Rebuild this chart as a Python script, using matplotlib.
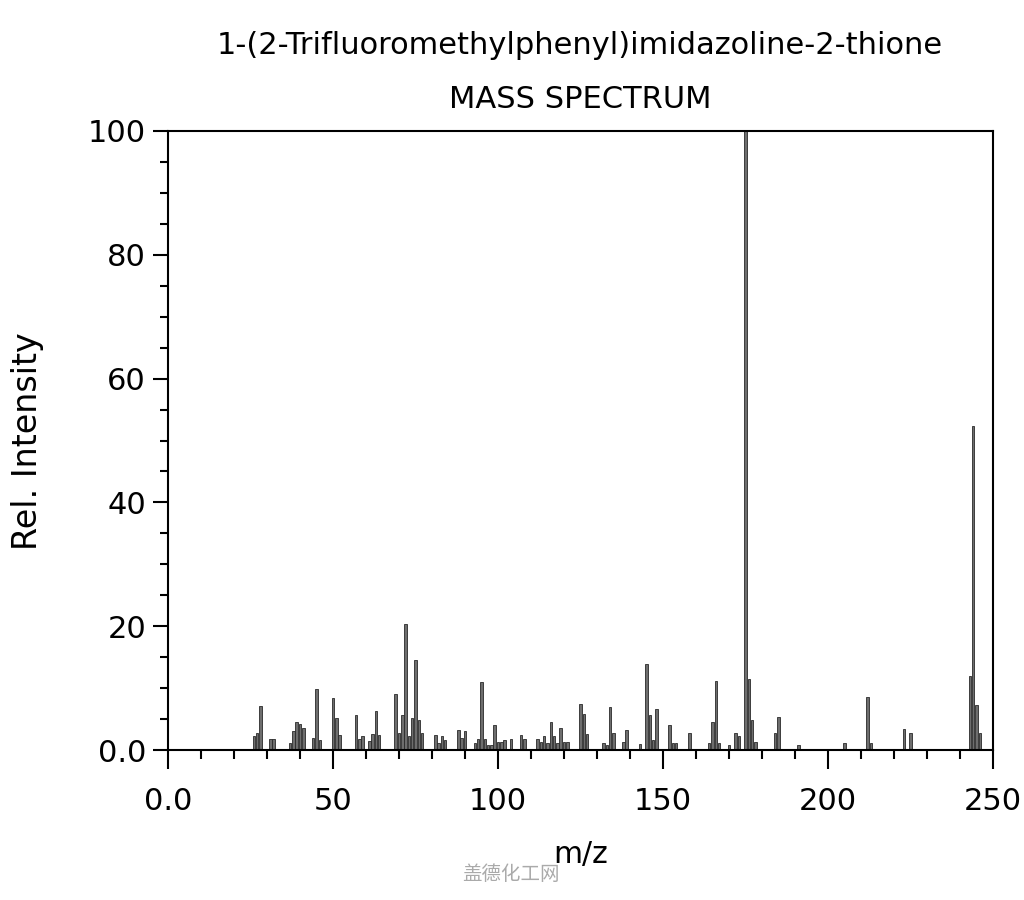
import matplotlib
matplotlib.use("Agg")
import matplotlib.pyplot as plt
from matplotlib.ticker import MultipleLocator, FixedLocator, FixedFormatter

title_line1 = "1-(2-Trifluoromethylphenyl)imidazoline-2-thione"
title_line2 = "MASS SPECTRUM"

mz = [26, 27, 28, 31, 32, 37, 38, 39, 40, 41, 44, 45, 46, 50, 51, 52,
      57, 58, 59, 61, 62, 63, 64, 69, 70, 71, 72, 73, 74, 75, 76, 77,
      81, 82, 83, 84, 88, 89, 90, 93, 94, 95, 96, 97, 98, 99, 100, 101,
      102, 104, 107, 108, 112, 113, 114, 115, 116, 117, 118, 119, 120, 121,
      125, 126, 127, 132, 133, 134, 135, 138, 139, 143, 145, 146, 147, 148,
      152, 153, 154, 158, 164, 165, 166, 167, 170, 172, 173, 175, 176, 177,
      178, 184, 185, 191, 205, 212, 213, 223, 225, 243, 244, 245, 246]
intensity = [2.2, 2.7, 7.1, 1.7, 1.7, 1.1, 3.1, 4.5, 4.2, 3.6, 2.0, 9.9, 1.6, 8.4, 5.2, 2.4,
             5.6, 1.8, 2.3, 1.4, 2.6, 6.3, 2.5, 9.1, 2.8, 5.6, 20.4, 2.3, 5.2, 14.6, 4.8, 2.7,
             2.4, 1.1, 2.3, 1.6, 3.3, 2.0, 3.0, 1.1, 1.7, 11.0, 1.7, 0.8, 0.8, 4.0, 1.3, 1.3,
             1.6, 1.7, 2.5, 1.8, 1.7, 1.3, 2.3, 1.2, 4.5, 2.3, 1.2, 3.6, 1.3, 1.3,
             7.4, 5.8, 2.6, 1.1, 0.8, 7.0, 2.7, 1.3, 3.3, 1.0, 13.9, 5.6, 1.6, 6.7,
             4.0, 1.2, 1.1, 2.7, 1.2, 4.5, 11.1, 1.1, 0.8, 2.8, 2.2, 100.0, 11.4, 4.8,
             1.3, 2.7, 5.3, 0.8, 1.2, 8.5, 1.1, 3.4, 2.7, 12.0, 52.3, 7.3, 2.8]

x_ticks = [0, 50, 100, 150, 200, 250]
x_tick_labels = ["0.0", "50", "100", "150", "200", "250"]
y_ticks = [0, 20, 40, 60, 80, 100]
y_tick_labels = ["0.0", "20", "40", "60", "80", "100"]

plt.rcParams['font.family'] = ['DejaVu Sans']
fig = plt.figure(figsize=(10.24, 9.0), dpi=100)
ax = fig.add_axes([168/1024, 1 - 750/900, (993-168)/1024, (750-131)/900])

ax.bar(mz, intensity, width=0.75, color="#6e6e6e", edgecolor="#2a2a2a", linewidth=0.6)

ax.set_xlim(0, 250)
ax.set_ylim(0, 100)
ax.xaxis.set_major_locator(FixedLocator(x_ticks))
ax.xaxis.set_major_formatter(FixedFormatter(x_tick_labels))
ax.xaxis.set_minor_locator(MultipleLocator(10))
ax.yaxis.set_major_locator(FixedLocator(y_ticks))
ax.yaxis.set_major_formatter(FixedFormatter(y_tick_labels))
ax.yaxis.set_minor_locator(MultipleLocator(5))

ax.tick_params(axis="x", which="major", direction="out", length=13.7, width=1.5,
               labelsize=22, pad=13, color="black")
ax.tick_params(axis="y", which="major", direction="out", length=10.8, width=1.5,
               labelsize=22, pad=5, color="black")
ax.tick_params(axis="x", which="minor", direction="out", length=6.5, width=1.5)
ax.tick_params(axis="y", which="minor", direction="out", length=5.5, width=1.5)
ax.tick_params(top=False, right=False)
for sp in ax.spines.values():
    sp.set_linewidth(1.5)

ax.set_xlabel("m/z", fontsize=21.5, va="center")
ax.xaxis.set_label_coords(0.5, (750 - 855) / 619)
ax.set_ylabel("Rel. Intensity", fontsize=24, va="center")
ax.yaxis.set_label_coords((28 - 168) / 825, (750 - 441) / 619)

fig.text(580/1024, 1 - 45/900, title_line1, ha="center", va="center", fontsize=22)
fig.text(580/1024, 1 - 100/900, title_line2, ha="center", va="center", fontsize=22)

fig.text(511/1024, 1 - 875/900, "盖德化工网", ha="center", va="center", fontsize=14,
         color="#aaaaaa", family=["Noto Sans CJK SC", "DejaVu Sans"])

fig.savefig("out.png", dpi=100, facecolor="white")
